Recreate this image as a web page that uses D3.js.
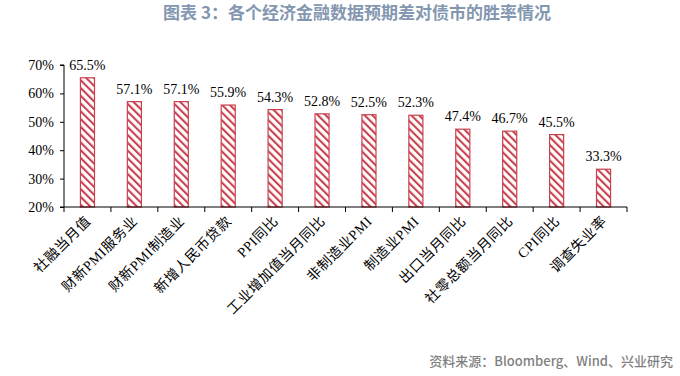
<!DOCTYPE html>
<html>
<head>
<meta charset="utf-8">
<script src="https://cdn.jsdelivr.net/npm/d3@7"></script>
<style>
  body { margin: 0; background: #fff; }
  svg { display: block; }
</style>
</head>
<body>
<div id="chart"></div>
<script>
const categories = ["社融当月值", "财新PMI服务业", "财新PMI制造业", "新增人民币贷款", "PPI同比", "工业增加值当月同比",
  "非制造业PMI", "制造业PMI", "出口当月同比", "社零总额当月同比", "CPI同比", "调查失业率"];
const winRates = [65.5, 57.1, 57.1, 55.9, 54.3, 52.8, 52.5, 52.3, 47.4, 46.7, 45.5, 33.3];
const yTicks = [20, 30, 40, 50, 60, 70];

const W = 680, H = 376;
const margin = { top: 65, right: 53, bottom: 169, left: 64 };
const RED = "#c9414f";
const serif = "'Liberation Serif', 'Times New Roman', 'Noto Sans CJK SC', serif";

const svg = d3.select("#chart").append("svg")
  .attr("width", W)
  .attr("height", H);

// hatch pattern
const pat = svg.append("defs").append("pattern")
  .attr("id", "hatch")
  .attr("patternUnits", "userSpaceOnUse")
  .attr("width", 5.5)
  .attr("height", 5.5)
  .attr("patternTransform", "rotate(-45)");
pat.append("rect").attr("width", 5.5).attr("height", 5.5).attr("fill", "#fff");
pat.append("line")
  .attr("x1", 0).attr("y1", 0).attr("x2", 0).attr("y2", 5.5)
  .attr("stroke", RED).attr("stroke-width", 4.2);

// title
svg.append("text")
  .attr("x", 357)
  .attr("y", 19)
  .attr("text-anchor", "middle")
  .attr("font-family", "'Noto Sans CJK SC', sans-serif")
  .attr("font-weight", "bold")
  .attr("font-size", 17)
  .attr("fill", "#8497b0")
  .text("图表 3：各个经济金融数据预期差对债市的胜率情况");

const innerW = W - margin.left - margin.right;
const innerH = H - margin.top - margin.bottom;

const g = svg.append("g")
  .attr("transform", `translate(${margin.left},${margin.top})`);

const x = d3.scaleBand()
  .domain(categories)
  .range([0, innerW])
  .paddingInner(0.7)
  .paddingOuter(0.35);

const y = d3.scaleLinear()
  .domain([20, 70])
  .range([innerH, 0]);

// y axis
const yAxis = g.append("g")
  .call(d3.axisLeft(y).tickValues(yTicks).tickFormat(d => d + "%").tickSize(4).tickPadding(6));
yAxis.select(".domain").attr("stroke", "#000").attr("d", `M-4,0H0V${innerH}H-4`);
yAxis.selectAll("text")
  .attr("font-family", serif)
  .attr("font-size", 14)
  .attr("fill", "#000");

// bars
g.selectAll("rect.bar")
  .data(categories)
  .enter()
  .append("rect")
  .attr("class", "bar")
  .attr("x", d => x(d))
  .attr("y", (d, i) => y(winRates[i]))
  .attr("width", x.bandwidth())
  .attr("height", (d, i) => innerH - y(winRates[i]))
  .attr("fill", "url(#hatch)")
  .attr("stroke", RED)
  .attr("stroke-width", 1.2);

// value labels
g.selectAll("text.val")
  .data(categories)
  .enter()
  .append("text")
  .attr("class", "val")
  .attr("x", d => x(d) + x.bandwidth() / 2)
  .attr("y", (d, i) => y(winRates[i]) - 8)
  .attr("text-anchor", "middle")
  .attr("font-family", serif)
  .attr("font-size", 14)
  .attr("fill", "#000")
  .text((d, i) => winRates[i].toFixed(1) + "%");

// x axis with ticks between categories
const step = innerW / categories.length;
const xAxisG = g.append("g").attr("transform", `translate(0,${innerH})`);
xAxisG.append("line")
  .attr("x1", 0).attr("x2", innerW)
  .attr("stroke", "#000");
xAxisG.selectAll("line.tick")
  .data(d3.range(categories.length + 1))
  .enter()
  .append("line")
  .attr("class", "tick")
  .attr("x1", d => d * step).attr("x2", d => d * step)
  .attr("y1", 0).attr("y2", 5)
  .attr("stroke", "#000");

// category labels
xAxisG.selectAll("text.cat")
  .data(categories)
  .enter()
  .append("text")
  .attr("class", "cat")
  .attr("transform", d => `translate(${x(d) + x.bandwidth() / 2 + 4},${15}) rotate(-45)`)
  .attr("text-anchor", "end")
  .attr("font-family", serif)
  .attr("font-size", 14)
  .attr("letter-spacing", 0.6)
  .attr("fill", "#000")
  .text(d => d);

// source
svg.append("text")
  .attr("x", 673)
  .attr("y", 366)
  .attr("text-anchor", "end")
  .attr("font-family", "'Noto Sans CJK SC', sans-serif")
  .attr("font-weight", 500)
  .attr("font-size", 13)
  .attr("fill", "#7f7f7f")
  .text("资料来源：Bloomberg、Wind、兴业研究");
</script>
</body>
</html>
